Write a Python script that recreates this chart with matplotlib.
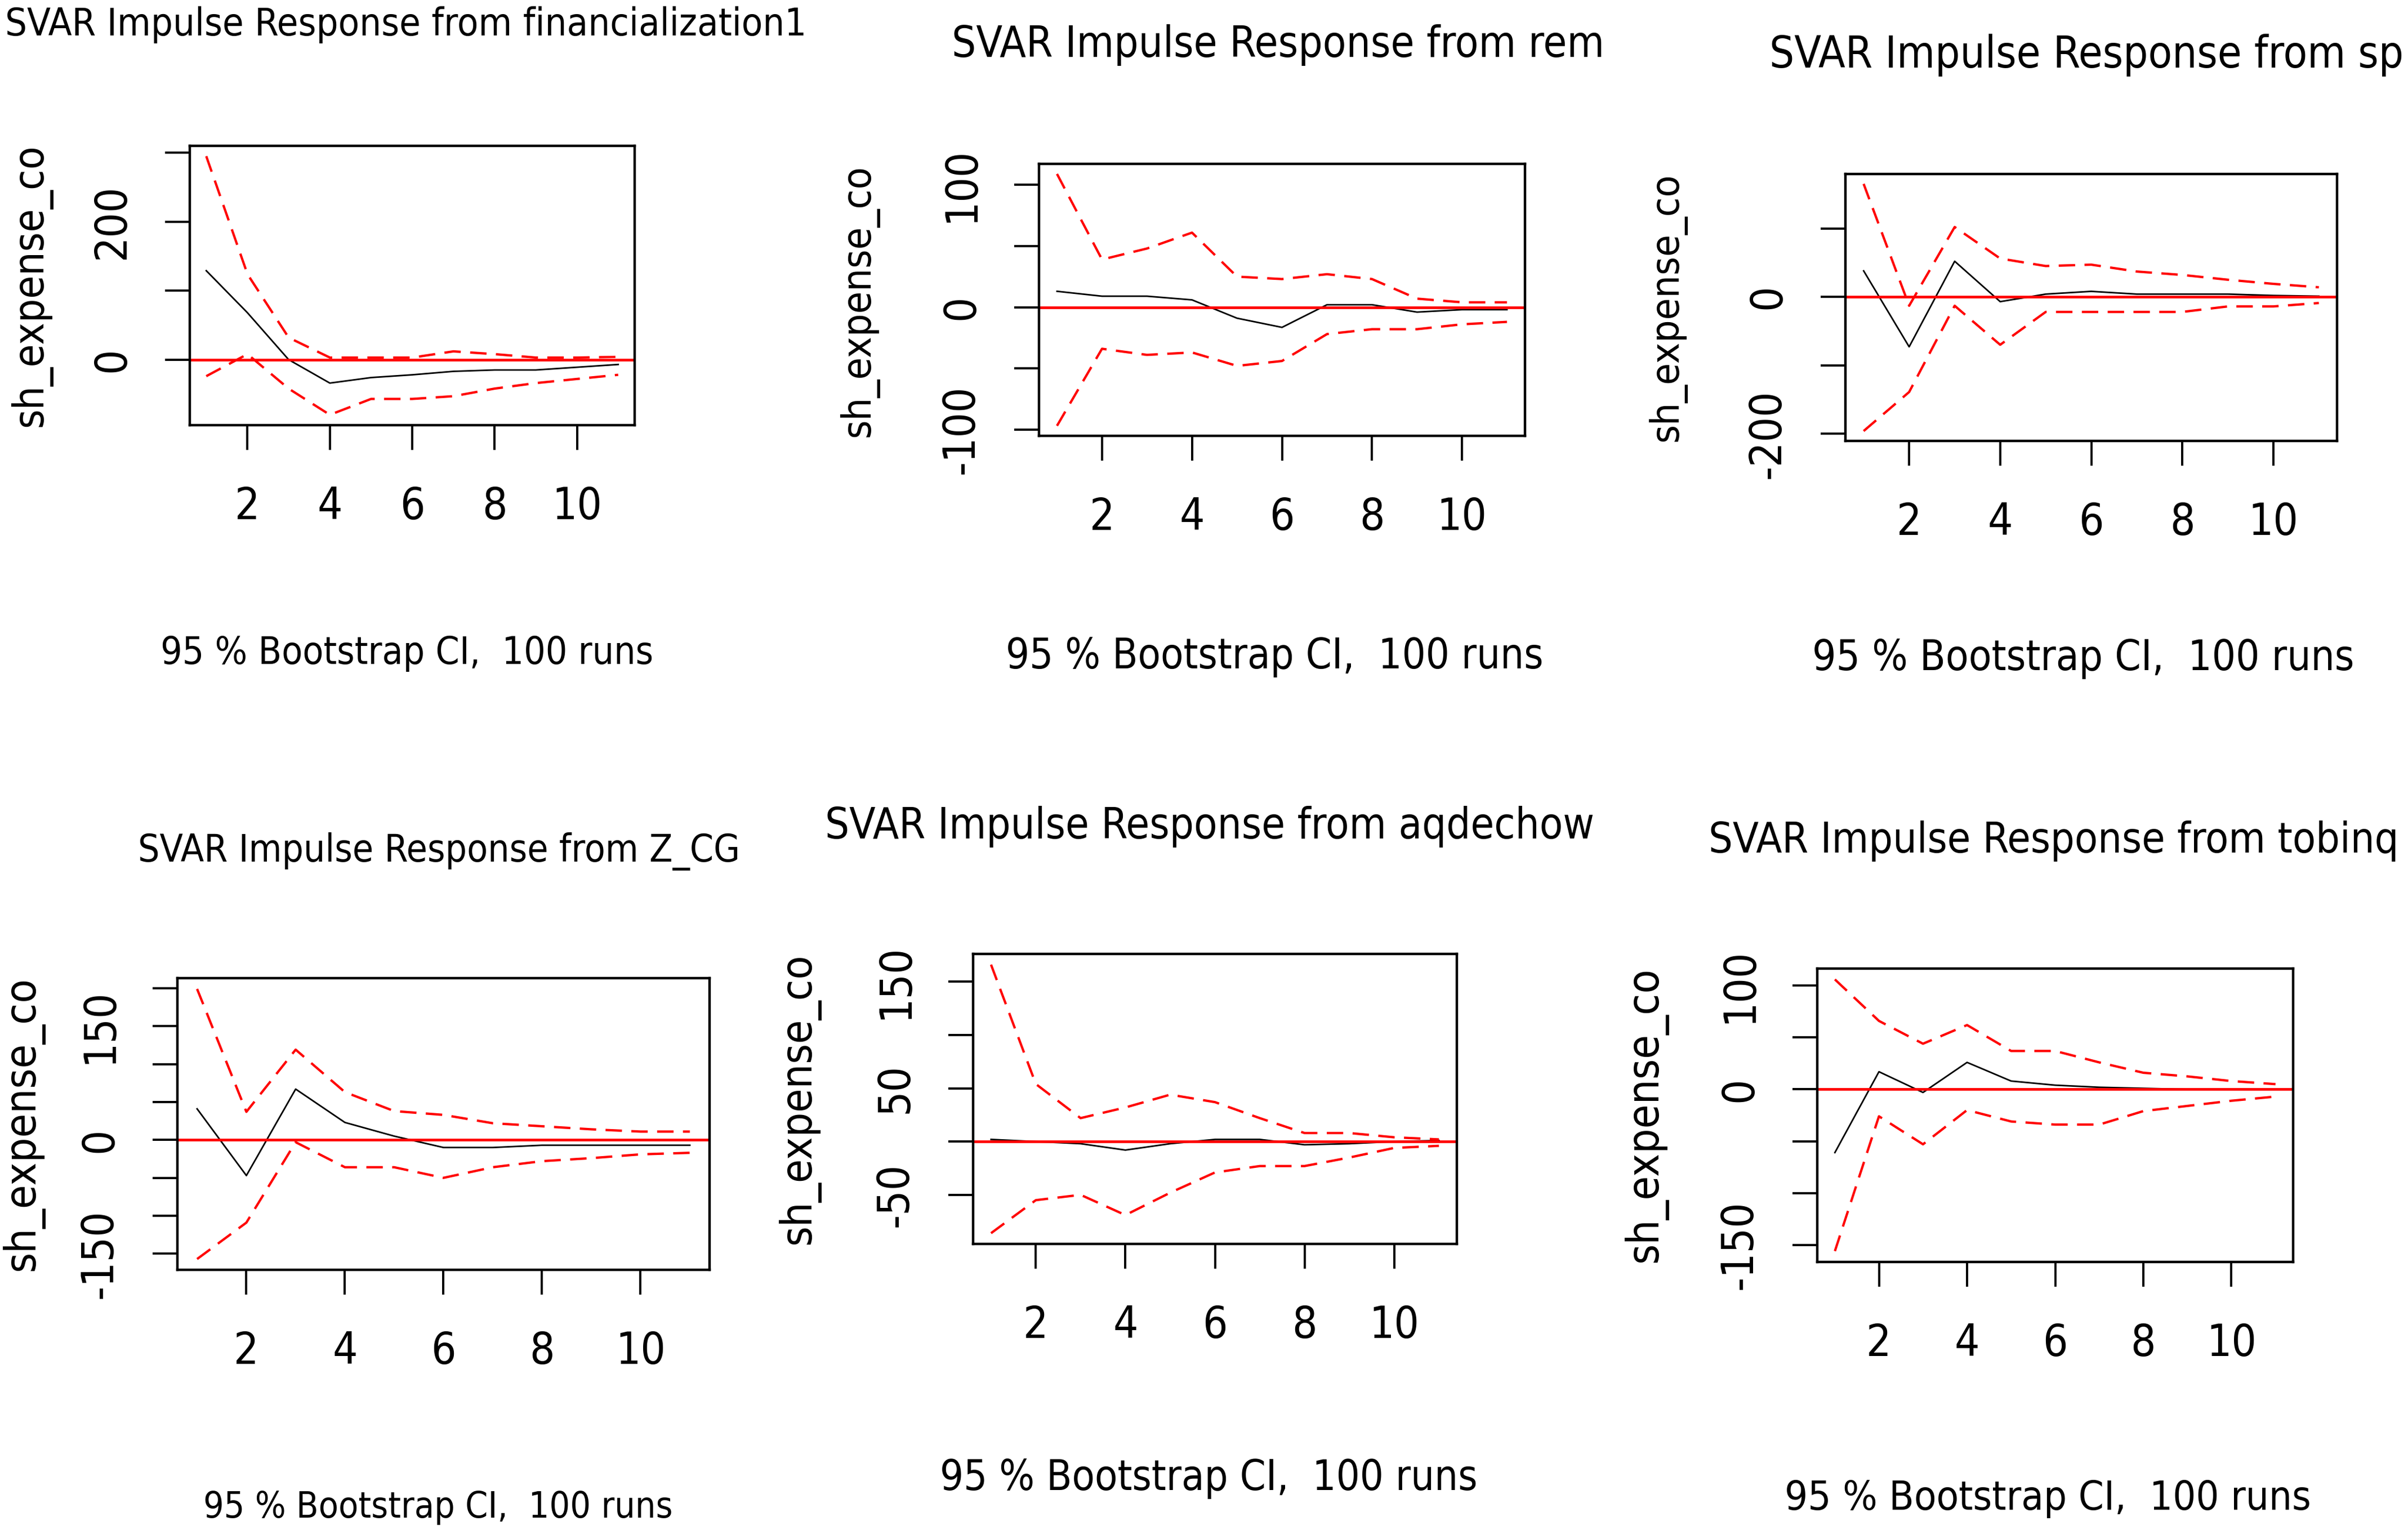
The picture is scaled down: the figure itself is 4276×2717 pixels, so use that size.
import matplotlib
matplotlib.use("Agg")
import matplotlib.pyplot as plt
from matplotlib import font_manager

# horizon steps
steps = list(range(1, 12))

# impulse responses (response of sh_expense_co)
fin_irf = [129, 68, 0, -34, -26, -22, -17, -15, -15, -11, -7]
fin_upper = [295, 124, 32, 3, 3, 3, 12, 8, 3, 3, 4]
fin_lower = [-24, 8, -42, -80, -57, -57, -53, -42, -34, -28, -22]

rem_irf = [13, 9, 9, 6, -9, -16.5, 2, 2, -4, -2, -2]
rem_upper = [109, 39, 48, 61, 25, 23, 27, 23, 7, 4, 4]
rem_lower = [-97, -34, -39, -37, -48, -44, -22, -18, -18, -14, -12]

sp_irf = [38, -73, 52, -7, 4, 8, 4, 4, 4, 2, 1]
sp_upper = [165, -13, 102, 56, 45, 47, 37, 32, 25, 19, 14]
sp_lower = [-196, -139, -13, -70, -22, -22, -22, -22, -14, -14, -9]

zcg_irf = [41, -47, 67, 23, 5, -10, -10, -7, -7, -7, -7]
zcg_upper = [199, 37, 119, 63, 38, 33, 22, 18, 14, 11, 11]
zcg_lower = [-157, -109, -3, -36, -36, -50, -36, -28, -24, -19, -17]

aqd_irf = [2, 0, -2, -8, -2, 2, 2, -3, -2, 0, 1]
aqd_upper = [166, 54, 22, 32, 44, 37, 22, 8, 8, 4, 2]
aqd_lower = [-86, -55, -50, -69, -48, -29, -23, -23, -15, -6, -4]

tob_irf = [-61, 17, -3, 26, 8, 4, 2, 1, 0, 0, 0]
tob_upper = [106, 66, 44, 62, 37, 37, 26, 16, 12.5, 8, 5]
tob_lower = [-156, -26, -53, -20, -31, -34, -34, -21, -16, -11, -7]

impulses = ["financialization1", "rem", "sp", "Z_CG", "aqdechow", "tobinq"]
x_ticks = [2, 4, 6, 8, 10]
y_ticks = [
    [0, 100, 200, 300],
    [-100, -50, 0, 50, 100],
    [-200, -100, 0, 100],
    [-150, -100, -50, 0, 50, 100, 150, 200],
    [-50, 0, 50, 100, 150],
    [-150, -100, -50, 0, 50, 100],
]
y_ticklabels = [
    ["0", "", "200", ""],
    ["-100", "", "0", "", "100"],
    ["-200", "", "0", ""],
    ["-150", "", "", "0", "", "", "150", ""],
    ["-50", "", "50", "", "150"],
    ["-150", "", "", "0", "", "100"],
]
y_label = "sh_expense_co"
ci_label = "95 % Bootstrap CI,  100 runs"

series = [
    (fin_irf, fin_lower, fin_upper),
    (rem_irf, rem_lower, rem_upper),
    (sp_irf, sp_lower, sp_upper),
    (zcg_irf, zcg_lower, zcg_upper),
    (aqd_irf, aqd_lower, aqd_upper),
    (tob_irf, tob_lower, tob_upper),
]

# layout in pixels of the 4276x2717 image
W, H = 4276, 2717
boxes = [
    (337, 259, 1127, 755),
    (1845, 291, 2708, 774),
    (3277, 309, 4150, 783),
    (315, 1737, 1260, 2255),
    (1728, 1694, 2587, 2209),
    (3227, 1720, 4072, 2241),
]
# (center x, baseline y, width)
title_pos = [(721, 63, 1423), (2270, 101, 1159), (3705, 120, 1126),
             (780, 1530, 1069), (2148, 1489, 1366), (3647, 1514, 1225)]
ci_pos = [(723, 1179, 876), (2263, 1187, 955), (3699, 1190, 963),
          (778, 2695, 832), (2146, 2646, 955), (3636, 2681, 936)]
# (center x, center y, length)
ylab_pos = [(55, 507, 503), (1525, 534, 484), (2960, 545, 477),
            (40, 1996, 523), (1418, 1951, 518), (2922, 1980, 525)]


def pick_font():
    # the R graphics use a narrow Arial-like face; use a condensed sans if one exists
    fonts = font_manager.fontManager.ttflist
    for f in fonts:
        if f.name == "Liberation Sans Narrow" and f.style == "normal" and f.weight in (400, "normal"):
            return font_manager.FontProperties(fname=f.fname)
    for f in fonts:
        if (f.stretch in ("condensed", "semi-condensed") or "Condensed" in f.name) \
                and f.style == "normal" and f.weight in (400, "normal") and "Mono" not in f.name:
            return font_manager.FontProperties(fname=f.fname)
    return font_manager.FontProperties(family="Liberation Sans")


fp = pick_font()

fig = plt.figure(figsize=(W / 100, H / 100), dpi=100)
fig.patch.set_facecolor("white")

fitted = []
for i, (irf, lower, upper) in enumerate(series):
    x0, y0, x1, y1 = boxes[i]
    ax = fig.add_axes([x0 / W, 1 - y1 / H, (x1 - x0) / W, (y1 - y0) / H])
    ax.plot(steps, irf, color="black", lw=2.0)
    ax.plot(steps, upper, color="red", lw=3.0, dashes=(7, 4))
    ax.plot(steps, lower, color="red", lw=3.0, dashes=(7, 4))
    ax.axhline(0, color="red", lw=3.4)
    ax.margins(x=0.04, y=0.04)

    ax.set_xticks(x_ticks)
    ax.set_xticklabels([str(t) for t in x_ticks], fontproperties=fp, fontsize=56)
    ax.set_yticks(y_ticks[i])
    ax.set_yticklabels(y_ticklabels[i], rotation=90, va="center",
                       fontproperties=fp, fontsize=56)
    ax.tick_params(axis="both", direction="out", length=32, width=2.8, colors="black")
    ax.tick_params(axis="x", pad=45)
    ax.tick_params(axis="y", pad=40)
    for sp in ax.spines.values():
        sp.set_linewidth(3.2)

    cx, by, tw = title_pos[i]
    t = fig.text(cx / W, 1 - by / H, "SVAR Impulse Response from " + impulses[i],
                 ha="center", va="baseline", fontproperties=fp, fontsize=50)
    fitted.append((t, tw))
    cx, by, tw = ci_pos[i]
    t = fig.text(cx / W, 1 - by / H, ci_label, ha="center", va="baseline",
                 fontproperties=fp, fontsize=56)
    fitted.append((t, tw))
    cx, cy, tl = ylab_pos[i]
    t = fig.text(cx / W, 1 - cy / H, y_label, rotation=90, ha="center", va="center",
                 fontproperties=fp, fontsize=50)
    fitted.append((t, tl))

# scale text so that its length matches the reference
renderer = fig.canvas.get_renderer()
for t, target in fitted:
    bb = t.get_window_extent(renderer)
    size = max(bb.width, bb.height)
    t.set_fontsize(t.get_fontsize() * target / size)

fig.savefig("out.png", dpi=100, facecolor="white")
